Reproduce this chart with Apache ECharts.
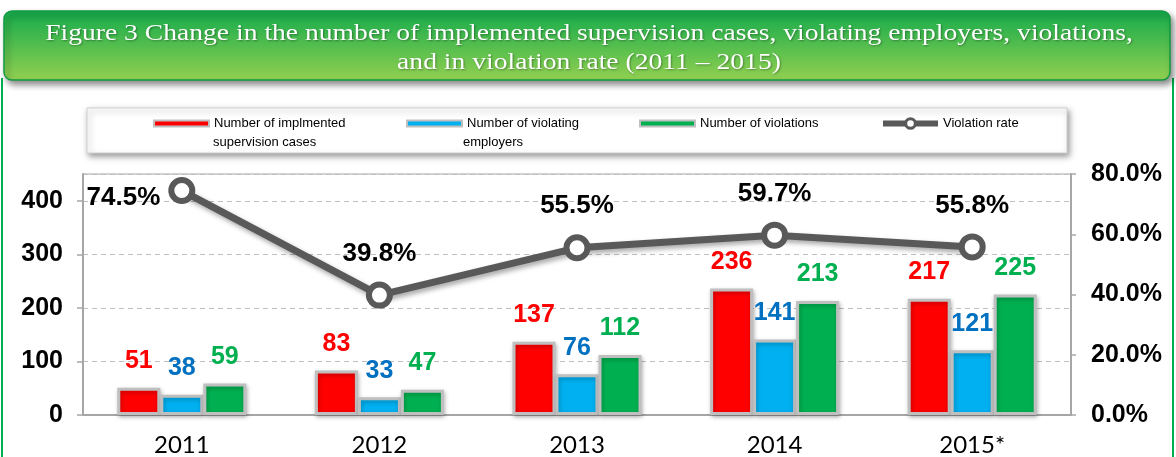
<!DOCTYPE html>
<html>
<head>
<meta charset="utf-8">
<script src="https://cdn.jsdelivr.net/npm/echarts@6/dist/echarts.min.js"></script>
<style>
  html, body { margin: 0; padding: 0; background: #fff; }
  #chart { width: 1176px; height: 457px; }
</style>
</head>
<body>
<div id="chart"></div>
<script>
const years = ["2011", "2012", "2013", "2014", "2015*"];
const supervisionCases = [51, 83, 137, 236, 217];
const violatingEmployers = [38, 33, 76, 141, 121];
const violations = [59, 47, 112, 213, 225];
const violationRate = [0.745, 0.398, 0.555, 0.597, 0.558];

const seriesNames = [
  "Number of implmented supervision cases",
  "Number of violating employers",
  "Number of violations",
  "Violation rate"
];
// first line of each legend entry (second lines are drawn below)
const legendFirstLine = {
  "Number of implmented supervision cases": "Number of implmented",
  "Number of violating employers": "Number of violating",
  "Number of violations": "Number of violations",
  "Violation rate": "Violation rate"
};

const chart = echarts.init(document.getElementById("chart"));

function legendAt(name, x, isLine) {
  const lg = {
    data: [name],
    left: x,
    top: isLine ? 117 : 117,
    padding: 0,
    itemWidth: 55,
    itemHeight: isLine ? 12 : 6,
    icon: isLine ? undefined : "rect",
    selectedMode: false,
    formatter: n => legendFirstLine[n],
    textStyle: {
      fontFamily: "Liberation Sans",
      fontSize: 13,
      color: "#000"
    }
  };
  if (isLine) {
    lg.lineStyle = { width: 6, color: "#595959" };
    lg.itemStyle = { color: "#fff", borderColor: "#595959", borderWidth: 3 };
  }
  return lg;
}

function barSeries(name, data, color, labelColor) {
  return {
    name: name,
    type: "bar",
    data: data,
    barWidth: 43,
    barGap: "0%",
    itemStyle: {
      color: color,
      borderColor: "#bfbfbf",
      borderWidth: 3,
      shadowBlur: 4,
      shadowOffsetX: 1,
      shadowOffsetY: 2,
      shadowColor: "rgba(0,0,0,0.25)"
    },
    label: {
      show: true,
      position: "top",
      distance: 14,
      color: labelColor,
      fontFamily: "Liberation Sans",
      fontWeight: "bold",
      fontSize: 25
    }
  };
}

const option = {
  animation: false,
  backgroundColor: "#fff",
  graphic: [
    // green frame sides
    { type: "line", shape: { x1: 2, y1: 78, x2: 2, y2: 457 }, style: { stroke: "#00b050", lineWidth: 2 }, z: -10 },
    { type: "line", shape: { x1: 1173, y1: 78, x2: 1173, y2: 457 }, style: { stroke: "#00b050", lineWidth: 2 }, z: -10 },
    // title box
    {
      type: "rect",
      shape: { x: 4, y: 11, width: 1166, height: 69, r: 8 },
      style: {
        fill: new echarts.graphic.LinearGradient(0, 0, 0, 1, [
          { offset: 0, color: "#14ab4c" },
          { offset: 1, color: "#92d050" }
        ]),
        stroke: "#119a42",
        lineWidth: 1.5,
        shadowBlur: 6,
        shadowOffsetX: 3,
        shadowOffsetY: 4,
        shadowColor: "rgba(0,0,0,0.45)"
      },
      z: -5
    },
    {
      type: "text",
      x: 589,
      y: 48,
      scaleX: 1.2,
      style: {
        text: "Figure 3 Change in the number of implemented supervision cases, violating employers, violations,\nand in violation rate (2011 \u2013 2015)",
        fill: "#fff",
        font: "23px 'Liberation Serif'",
        lineHeight: 29,
        align: "center",
        verticalAlign: "middle",
        textShadowColor: "rgba(0,0,0,0.35)",
        textShadowBlur: 2,
        textShadowOffsetX: 1,
        textShadowOffsetY: 1
      },
      z: -4
    },
    // legend box
    {
      type: "rect",
      shape: { x: 87, y: 108, width: 980, height: 45 },
      style: {
        fill: "#fff",
        stroke: "#d0d0d0",
        lineWidth: 1,
        shadowBlur: 6,
        shadowOffsetX: 2,
        shadowOffsetY: 3,
        shadowColor: "rgba(0,0,0,0.4)"
      },
      z: -5
    },
    // second lines of the wrapped legend entries
    {
      type: "text", x: 213, y: 142,
      style: { text: "supervision cases", font: "13px 'Liberation Sans'", fill: "#000", verticalAlign: "middle" }
    },
    {
      type: "text", x: 463, y: 142,
      style: { text: "employers", font: "13px 'Liberation Sans'", fill: "#000", verticalAlign: "middle" }
    }
  ],
  legend: [
    legendAt(seriesNames[0], 153, false),
    legendAt(seriesNames[1], 406, false),
    legendAt(seriesNames[2], 639, false),
    legendAt(seriesNames[3], 880, true)
  ],
  grid: {
    left: 83,
    right: 105,
    top: 174,
    bottom: 38,
    show: true,
    borderColor: "#a6a6a6",
    borderWidth: 1,
    containLabel: false
  },
  xAxis: {
    type: "category",
    data: years,
    axisLine: { lineStyle: { color: "#a6a6a6", width: 2 } },
    axisTick: { lineStyle: { color: "#a6a6a6", width: 1.5 }, length: 5 },
    axisLabel: {
      color: "#000",
      fontFamily: "Lato",
      fontSize: 24,
      margin: 18
    }
  },
  yAxis: [
    {
      type: "value",
      min: 0,
      max: 450,
      interval: 100,
      axisLine: { show: true, lineStyle: { color: "#a6a6a6", width: 2 } },
      axisTick: { show: true, length: 6, lineStyle: { color: "#a6a6a6", width: 1.5 } },
      splitLine: { lineStyle: { color: "#bfbfbf", type: [5, 4], width: 1 } },
      axisLabel: {
        color: "#000",
        fontFamily: "Liberation Sans",
        fontWeight: "bold",
        fontSize: 25,
        margin: 20,
        showMaxLabel: false
      }
    },
    {
      type: "value",
      min: 0,
      max: 0.8,
      interval: 0.2,
      axisLine: { show: true, lineStyle: { color: "#a6a6a6", width: 2 } },
      axisTick: { show: true, length: 5, lineStyle: { color: "#a6a6a6", width: 1.5 } },
      splitLine: { show: false },
      axisLabel: {
        color: "#000",
        fontFamily: "Liberation Sans",
        fontWeight: "bold",
        fontSize: 25,
        margin: 20,
        formatter: v => (v * 100).toFixed(1) + "%"
      }
    }
  ],
  series: [
    barSeries(seriesNames[0], supervisionCases, "#ff0000", "#ff0000"),
    barSeries(seriesNames[1], violatingEmployers, "#00b0f0", "#0070c0"),
    barSeries(seriesNames[2], violations, "#00b050", "#00b050"),
    {
      name: seriesNames[3],
      type: "line",
      yAxisIndex: 1,
      z: 5,
      data: violationRate.map((v, i) => ({
        value: v,
        label: i === 0 ? { position: "left", distance: 8, offset: [0, 7] } : {}
      })),
      symbol: "circle",
      symbolSize: 21,
      color: "#595959",
      lineStyle: {
        color: "#595959",
        width: 7,
        shadowBlur: 5,
        shadowOffsetX: 2,
        shadowOffsetY: 3,
        shadowColor: "rgba(0,0,0,0.35)"
      },
      itemStyle: {
        color: "#fff",
        borderColor: "#595959",
        borderWidth: 6
      },
      label: {
        show: true,
        position: "top",
        distance: 15,
        color: "#000",
        fontFamily: "Liberation Sans",
        fontWeight: "bold",
        fontSize: 26,
        formatter: p => (p.value * 100).toFixed(1) + "%"
      }
    }
  ]
};

chart.setOption(option);
</script>
</body>
</html>
